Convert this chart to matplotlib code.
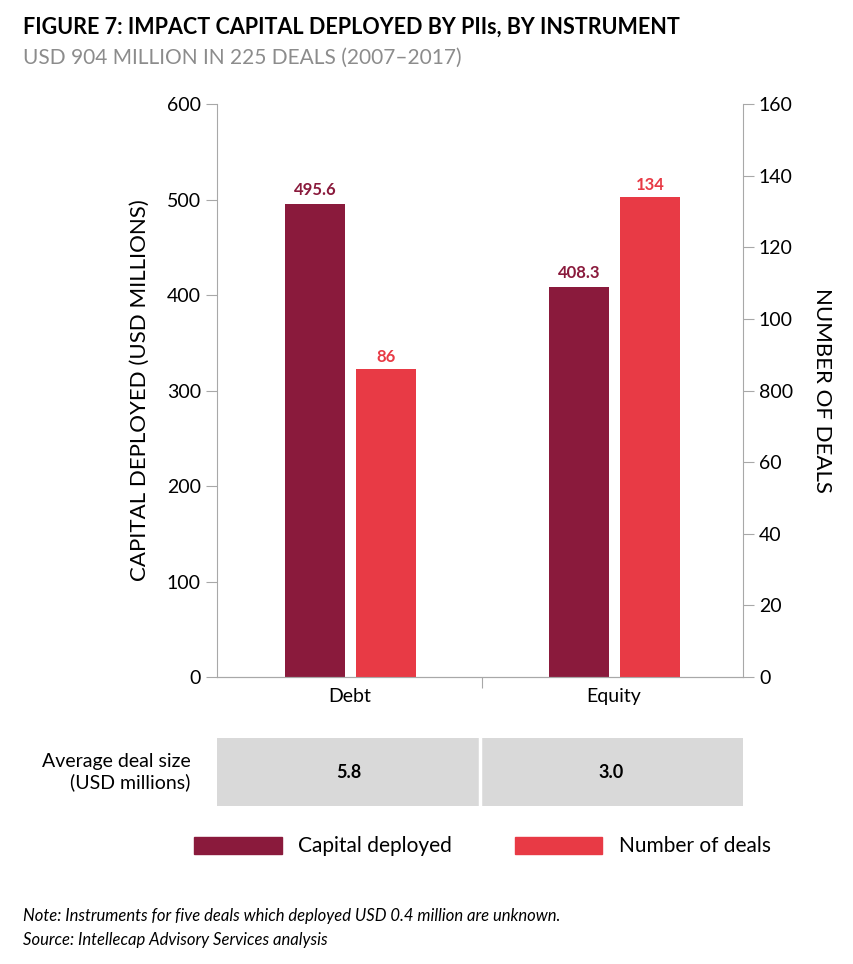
import matplotlib.pyplot as plt
import matplotlib.patches as mpatches

plt.rcParams['font.family'] = ['Lato', 'DejaVu Sans']

categories = ["Debt", "Equity"]
capital = [495.6, 408.3]
deals = [86, 134]
avg_size = ["5.8", "3.0"]
left_ticks = [0, 100, 200, 300, 400, 500, 600]
right_ticks = [0, 20, 40, 60, 80, 100, 120, 140, 160]
right_labels = ["0", "20", "40", "60", "800", "100", "120", "140", "160"]

dark = "#8a1a3c"
red = "#e83a45"
grey = "#a8a8a8"

fig = plt.figure(figsize=(8.54, 9.64), dpi=100)
ax = fig.add_axes([0.254, 0.2977, 0.616, 0.5943])
ax2 = ax.twinx()

x = list(range(len(categories)))
w = 0.227
ax.bar([i - 0.133 for i in x], capital, w, color=dark)
ax2.bar([i + 0.138 for i in x], deals, w, color=red)
for i in x:
    ax.text(i - 0.133, capital[i] + 6, f"{capital[i]}", ha='center', va='bottom',
            color=dark, fontsize=12, fontweight='bold')
    ax2.text(i + 0.138, deals[i] + 1.2, f"{deals[i]}", ha='center', va='bottom',
             color=red, fontsize=12, fontweight='bold')

ax.set_xlim(-0.504, 1.489)
ax.set_ylim(0, 600)
ax2.set_ylim(0, 160)
ax.set_yticks(left_ticks)
ax2.set_yticks(right_ticks)
ax2.set_yticklabels(right_labels)
ax.set_xticks([0.5], minor=False)
ax.set_xticklabels([""])
for i, c in zip(x, categories):
    ax.text(i, -12, c, ha='center', va='top', fontsize=14, transform=ax.transData)
ax.tick_params(axis='x', length=8, color=grey)

for a in (ax, ax2):
    a.spines['top'].set_visible(False)
    for s in ('left', 'right', 'bottom'):
        a.spines[s].set_color(grey)
    a.tick_params(axis='y', labelsize=14, color=grey, length=8)
ax.spines['right'].set_visible(False)
ax2.spines['left'].set_visible(False)

ax.set_ylabel("CAPITAL DEPLOYED (USD MILLIONS)", fontsize=16, labelpad=12)
ax2.set_ylabel("NUMBER OF DEALS", fontsize=16, rotation=270, labelpad=28)

# title
fig.text(0.027, 0.972, "FIGURE 7: IMPACT CAPITAL DEPLOYED BY PIIs, BY INSTRUMENT",
         fontsize=15.5, fontweight='bold', va='center')
fig.text(0.027, 0.94, "USD 904 MILLION IN 225 DEALS (2007\u20132017)",
         fontsize=15, color="#8c8c8c", va='center')

# average deal size table
tab = fig.add_axes([0.254, 0.164, 0.616, 0.07])
tab.set_xlim(0, 2)
tab.set_ylim(0, 1)
tab.axis('off')
for i, v in enumerate(avg_size):
    tab.add_patch(mpatches.Rectangle((i, 0), 1, 1, color="#d9d9d9"))
    tab.text(i + 0.5, 0.5, v, ha='center', va='center', fontsize=13, fontweight='bold')
tab.plot([1, 1], [0, 1], color='white', lw=2.5)
fig.text(0.223, 0.199, "Average deal size\n(USD millions)", ha='right', va='center',
         fontsize=14, linespacing=1.2)

# legend
handles = [mpatches.Patch(color=dark, label="Capital deployed"),
           mpatches.Patch(color=red, label="Number of deals")]
fig.legend(handles=handles, loc='center', bbox_to_anchor=(0.565, 0.122), ncol=2,
           frameon=False, fontsize=15, handlelength=4.2, handleheight=0.9,
           columnspacing=3)

fig.text(0.027, 0.05, "Note: Instruments for five deals which deployed USD 0.4 million are unknown.",
         fontsize=12, style='italic', va='center')
fig.text(0.027, 0.025, "Source: Intellecap Advisory Services analysis",
         fontsize=12, style='italic', va='center')

fig.savefig("out.png", dpi=100)
